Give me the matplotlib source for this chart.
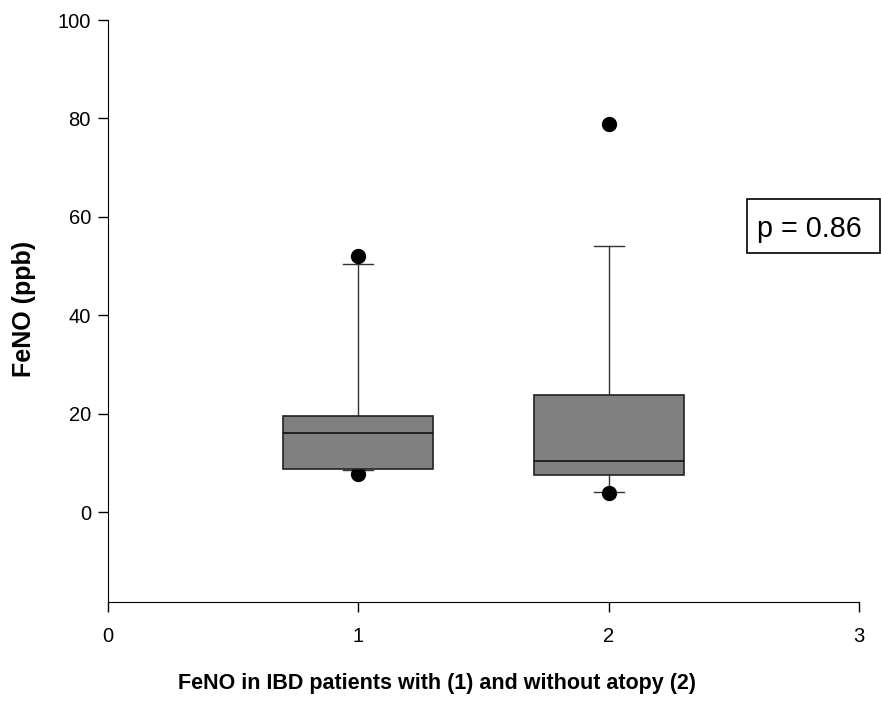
import matplotlib
matplotlib.use('Agg')
import matplotlib.pyplot as plt
from matplotlib.patches import Rectangle

plt.rcParams['font.family'] = ['Liberation Sans', 'DejaVu Sans']

# box statistics for the two groups (ppb)
groups = [1, 2]
whisker_low = [8.5, 4.0]
q1 = [8.7, 7.5]
median = [16.0, 10.3]
q3 = [19.6, 23.8]
whisker_high = [50.4, 54.0]
outliers = [[52.1, 7.8], [78.9, 3.8]]

x_ticks = [0, 1, 2, 3]
y_ticks = [0, 20, 40, 60, 80, 100]

stats = []
for i in range(len(groups)):
	stats.append({'whislo': whisker_low[i], 'q1': q1[i], 'med': median[i],
				  'q3': q3[i], 'whishi': whisker_high[i], 'fliers': outliers[i]})

fig = plt.figure(figsize=(8.81, 7.07), dpi=100)
ax = fig.add_axes([0.1222, 0.1489, 0.8532, 0.8228])

parts = ax.bxp(stats, positions=groups, widths=0.6, patch_artist=True,
			   boxprops=dict(facecolor='#808080', edgecolor='#222222', linewidth=1.2),
			   medianprops=dict(color='#111111', linewidth=1.2),
			   whiskerprops=dict(color='#333333', linewidth=1.0),
			   capprops=dict(color='#333333', linewidth=1.0),
			   capwidths=0.12,
			   flierprops=dict(marker='o', markerfacecolor='black', markeredgecolor='black',
							   markersize=10, linestyle='none'),
			   manage_ticks=False)

# whiskers and caps at the back, dots over them, boxes on top
for key in ('whiskers', 'caps'):
	for artist in parts[key]:
		artist.set_zorder(1.5)
for artist in parts['fliers']:
	artist.set_zorder(1.8)
for artist in parts['boxes']:
	artist.set_zorder(2.5)
for artist in parts['medians']:
	artist.set_zorder(2.6)

ax.set_xlim(0, 3)
ax.set_ylim(-18.2, 100)
ax.set_xticks(x_ticks)
ax.set_yticks(y_ticks)
ax.tick_params(direction='out', length=7, width=1, labelsize=14.5)
ax.tick_params(axis='x', pad=11)
ax.tick_params(axis='y', pad=5)

ax.spines['top'].set_visible(False)
ax.spines['right'].set_visible(False)

ax.set_xlabel('FeNO in IBD patients with (1) and without atopy (2)',
			  fontsize=15.5, fontweight='bold', va='center')
ax.set_ylabel('FeNO (ppb)', fontsize=18, fontweight='bold', va='center')
ax.xaxis.set_label_coords(0.438, -0.14)
ax.yaxis.set_label_coords(-0.111, 0.503)

# p-value box
fig.patches.append(Rectangle((0.8476, 0.6421), 0.1507, 0.0764, transform=fig.transFigure,
							 facecolor='white', edgecolor='black', linewidth=1.2))
fig.text(0.8593, 0.6652, 'p = 0.86', fontsize=20.7, ha='left', va='baseline')

plt.savefig('out.png', dpi=100)
